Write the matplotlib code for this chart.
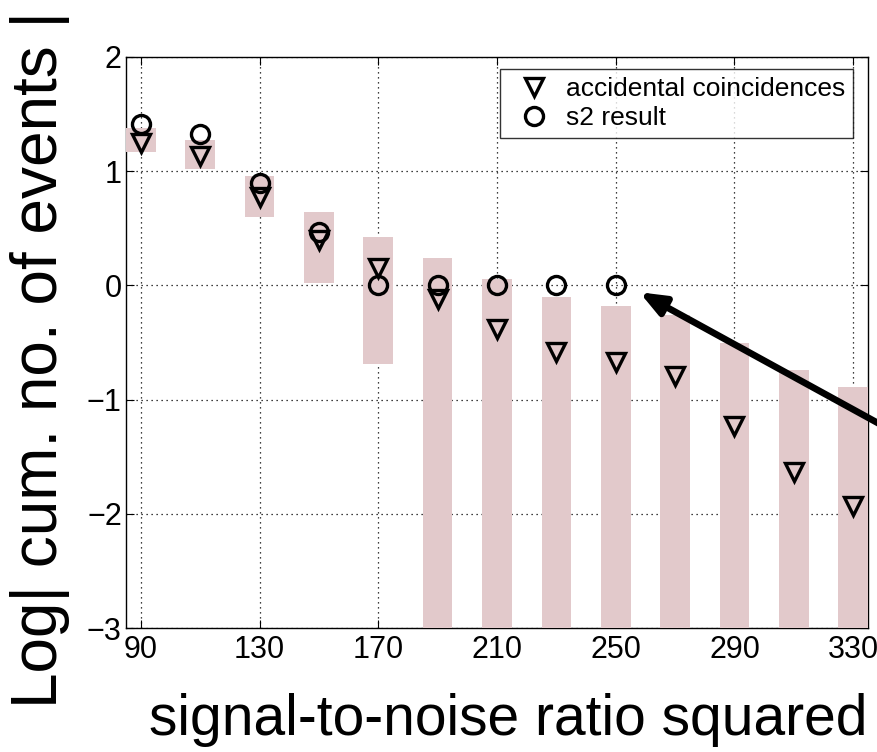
import numpy as np
import matplotlib.pyplot as plt

# signal-to-noise ratio squared bins
snr = [90, 110, 130, 150, 170, 190, 210, 230, 250, 270, 290, 310, 330]
# shaded band (expected spread of accidentals)
band_lo = [1.165, 1.02, 0.60, 0.02, -0.69, -3, -3, -3, -3, -3, -3, -3, -3]
band_hi = [1.38, 1.27, 0.955, 0.64, 0.42, 0.24, 0.056, -0.10, -0.18, -0.26, -0.50, -0.74, -0.89]
# log10 cumulative counts
accidental = [1.25, 1.13, 0.77, 0.40, 0.15, -0.12, -0.38, -0.58, -0.67, -0.79, -1.23, -1.63, -1.93]
s2_snr = [90, 110, 130, 150, 170, 190, 210, 230, 250]
s2_result = [1.41, 1.33, 0.90, 0.47, 0.0, 0.0, 0.0, 0.0, 0.0]

plt.rcParams['font.family'] = ['Liberation Sans', 'DejaVu Sans']

W, H = 878, 752
fig = plt.figure(figsize=(W / 100, H / 100), dpi=100)
ax = fig.add_axes([126 / W, 124 / H, 742 / W, 571 / H])

lo = np.array(band_lo)
hi = np.array(band_hi)
ax.bar(snr, hi - lo, bottom=lo, width=10, color='#e2c9cb', zorder=3)

ax.plot(snr, accidental, 'v', ms=13, mfc='none', mec='black', mew=2.4,
        zorder=4, label='accidental coincidences')
ax.plot(s2_snr, s2_result, 'o', ms=13, mfc='none', mec='black', mew=2.4,
        zorder=4, label='s2 result')

ax.set_xlim(85, 335)
ax.set_ylim(-3, 2)
ax.set_xticks(range(90, 331, 40))
ax.set_yticks(range(-3, 3))
ax.grid(True, color='black', linestyle=(0, (1, 3)), linewidth=0.9)
ax.set_axisbelow(True)
ax.tick_params(direction='in', top=True, right=True, length=6, labelsize=22)
ax.tick_params(axis='x', pad=5)
ax.tick_params(axis='y', pad=3)
for s in ax.spines.values():
    s.set_linewidth(1.0)

leg = ax.legend(loc='upper right', bbox_to_anchor=(0.98, 0.979),
                fontsize=19, frameon=True, fancybox=False, handlelength=2.0,
                handletextpad=0.2, borderpad=0.3, labelspacing=0.2,
                borderaxespad=0)
leg.get_frame().set_edgecolor('black')
leg.get_frame().set_linewidth(1.0)

ax.annotate('', xy=(258, -0.06), xytext=(352, -1.40),
            arrowprops=dict(arrowstyle='-|>,head_length=1.5,head_width=0.6',
                            color='black', lw=4.8, shrinkA=0, shrinkB=0),
            annotation_clip=False, zorder=6)

fig.text(508 / W, 17 / H, 'signal-to-noise ratio squared', ha='center',
         va='baseline', fontsize=41)
fig.text(57 / W, 1 - 360 / H, 'Log| cum. no. of events |', ha='center',
         va='baseline', rotation=90, rotation_mode='anchor', fontsize=46)

fig.savefig('out.png', dpi=100)
